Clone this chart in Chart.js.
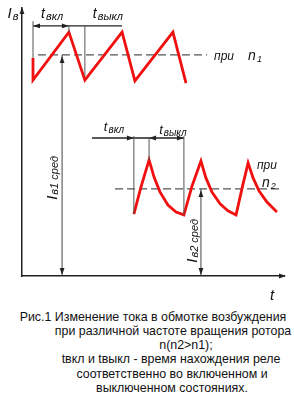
<!DOCTYPE html>
<html>
<head>
<meta charset="utf-8">
<script src="https://cdn.jsdelivr.net/npm/chart.js@4.4.0/dist/chart.umd.min.js"></script>
<style>
body { margin: 0; background: #fff; }
#wrap { position: relative; width: 294px; height: 398px; overflow: hidden; }
#grafik { position: absolute; left: 0; top: 0; }
.cap { position: absolute; width: 300px; text-align: center; font-family: "Liberation Sans", Arial, sans-serif; font-size: 12.4px; line-height: 14px; white-space: nowrap; color: #111; }
</style>
</head>
<body>
<div id="wrap">
<canvas id="grafik" width="294" height="302"></canvas>
<div class="cap" style="left:3px;top:310px">Рис.1 Изменение тока в обмотке возбуждения</div>
<div class="cap" style="left:23px;top:324px">при различной частоте вращения ротора</div>
<div class="cap" style="left:36px;top:338px">n(n2&gt;n1);</div>
<div class="cap" style="left:21px;top:352px">tвкл и tвыкл - время нахождения реле</div>
<div class="cap" style="left:22px;top:367px">соответственно во включенном и</div>
<div class="cap" style="left:22px;top:381px">выключенном состояниях.</div>
</div>
<script>
// =================
// DATA (time 0..100, current 0..100)
// =================
// ток при n1
let t1 = [4.2, 4.2, 17.9, 24.0, 38.2, 43.1, 57.6, 62.6];
let i1 = [81.3, 73.1, 91.0, 73.1, 91.0, 72.8, 91.0, 72.0];

// ток при n2
let t2 = [42.7, 45.4, 48.5, 50.4, 52.7, 55.7, 58.8, 61.8, 64.9, 68.3, 70.2, 72.5, 75.6, 78.6, 81.7, 84.0, 86.3, 88.2, 90.5, 93.5, 97.3];
let i2 = [23.1, 33.2, 43.3, 36.9, 31.3, 26.5, 23.9, 22.8, 33.6, 42.9, 36.6, 31.3, 26.9, 24.3, 22.8, 32.8, 42.2, 36.6, 31.7, 27.6, 23.9];

// средний ток (уровень, от, до)
let iSred1 = [82.5, 6.1, 70.6];
let iSred2 = [32.5, 35.5, 98.5];

// размерные линии
let razmer1 = { y: 93.3, from: 4.2, to: 38.2, vkl: [4.2, 17.9], vykl: 24.0 };
let razmer2 = { y: 51.5, from: 26.7, to: 61.8, vkl: 42.7, vykl: [48.5, 61.8] };
let sredX = [15.3, 68.3];

function toPoints(xs, ys) {
    return xs.map((x, k) => ({ x: x, y: ys[k] }));
}

// =================
// RISUNOK
// =================
const RED = "#f01010";
const DARK = "#222";
const FONT = "'Liberation Sans', Arial, sans-serif";

function arrow(ctx, x, y, dir) {
    // dir: "l", "r", "u", "d"
    let L = 7, H = 2.4;
    ctx.beginPath();
    ctx.moveTo(x, y);
    if (dir === "r") { ctx.lineTo(x - L, y - H); ctx.lineTo(x - L, y + H); }
    if (dir === "l") { ctx.lineTo(x + L, y - H); ctx.lineTo(x + L, y + H); }
    if (dir === "u") { ctx.lineTo(x - H, y + L); ctx.lineTo(x + H, y + L); }
    if (dir === "d") { ctx.lineTo(x - H, y - L); ctx.lineTo(x + H, y - L); }
    ctx.closePath();
    ctx.fill();
}

function line(ctx, x1, y1, x2, y2) {
    ctx.beginPath();
    ctx.moveTo(x1, y1);
    ctx.lineTo(x2, y2);
    ctx.stroke();
}

// main letter + lowered small index
function subText(ctx, main, sub, x, y, size, subSize, align) {
    ctx.font = "italic " + size + "px " + FONT;
    let w1 = ctx.measureText(main).width;
    ctx.font = "italic " + subSize + "px " + FONT;
    let w2 = ctx.measureText(sub).width;
    let start = align === "center" ? x - (w1 + w2 + 1) / 2 : x;
    ctx.textAlign = "left";
    ctx.font = "italic " + size + "px " + FONT;
    ctx.fillText(main, start, y);
    ctx.font = "italic " + subSize + "px " + FONT;
    ctx.fillText(sub, start + w1 + 1, y + 2);
}

const dopolnenie = {
    id: "dopolnenie",
    afterDraw(chart) {
        let ctx = chart.ctx;
        let sx = chart.scales.x, sy = chart.scales.y;
        let px = v => sx.getPixelForValue(v);
        let py = v => sy.getPixelForValue(v);
        let area = chart.chartArea;

        ctx.save();
        ctx.fillStyle = DARK;
        ctx.strokeStyle = DARK;

        // стрелки осей
        arrow(ctx, area.left, area.top - 1, "u");
        arrow(ctx, area.right + 2, area.bottom, "r");

        // размер 1 (верх)
        ctx.lineWidth = 1.3;
        line(ctx, px(razmer1.from), py(razmer1.y), px(razmer1.to), py(razmer1.y));
        arrow(ctx, px(razmer1.vkl[0]), py(razmer1.y), "l");
        arrow(ctx, px(razmer1.vkl[1]), py(razmer1.y), "r");
        ctx.lineWidth = 1;
        ctx.strokeStyle = "#555";
        line(ctx, px(razmer1.vkl[0]), py(95.1), px(razmer1.vkl[0]), py(i1[0]));
        line(ctx, px(razmer1.vkl[1]), py(razmer1.y), px(razmer1.vkl[1]), py(91));
        line(ctx, px(razmer1.vykl), py(razmer1.y), px(razmer1.vykl), py(74.5));

        // размер 2 (низ)
        ctx.strokeStyle = DARK;
        ctx.lineWidth = 1.3;
        line(ctx, px(razmer2.from), py(razmer2.y), px(razmer2.to), py(razmer2.y));
        arrow(ctx, px(razmer2.vkl), py(razmer2.y), "r");
        arrow(ctx, px(razmer2.vykl[0]), py(razmer2.y), "l");
        arrow(ctx, px(razmer2.vykl[1]), py(razmer2.y), "r");
        ctx.lineWidth = 1;
        ctx.strokeStyle = "#555";
        line(ctx, px(razmer2.vkl), py(52.2), px(razmer2.vkl), py(i2[0]));
        line(ctx, px(razmer2.vykl[0]), py(razmer2.y), px(razmer2.vykl[0]), py(43.3));
        line(ctx, px(razmer2.vykl[1]), py(52.2), px(razmer2.vykl[1]), py(22.8));

        // средние токи
        ctx.strokeStyle = "#444";
        line(ctx, px(sredX[0]), py(iSred1[0]), px(sredX[0]), area.bottom);
        arrow(ctx, px(sredX[0]), py(iSred1[0]) + 1, "u");
        arrow(ctx, px(sredX[0]), area.bottom - 1, "d");
        line(ctx, px(sredX[1]), py(iSred2[0]), px(sredX[1]), area.bottom);
        arrow(ctx, px(sredX[1]), py(iSred2[0]) + 1, "u");
        arrow(ctx, px(sredX[1]), area.bottom - 1, "d");

        // подписи
        ctx.fillStyle = "#111";
        ctx.textBaseline = "alphabetic";
        subText(ctx, "I", "в", px(-5.5), py(96.3), 15, 11, "left");
        subText(ctx, "t", "вкл", px(11.5), py(96.3), 14, 11, "center");
        subText(ctx, "t", "выкл", px(32.8), py(96.3), 14, 11, "center");
        subText(ctx, "t", "вкл", px(35.1), py(54.1), 13, 10, "center");
        subText(ctx, "t", "выкл", px(57.6), py(53.0), 13, 10, "center");

        ctx.font = "italic 12px " + FONT;
        ctx.textAlign = "left";
        ctx.fillText("при", px(73.3), py(80.6));
        subText(ctx, "n", "1", px(86.3), py(80.6), 14, 9, "left");
        ctx.font = "italic 12px " + FONT;
        ctx.fillText("при", px(89.7), py(39.9));
        subText(ctx, "n", "2", px(91.6), py(33.2), 14, 9, "left");

        ctx.font = "italic 15px " + FONT;
        ctx.fillText("t", px(94.7), py(-9));

        // повернутые подписи
        let rot = [[11.5, 36.6, "1"], [64.9, 13.1, "2"]];
        rot.forEach(r => {
            ctx.save();
            ctx.translate(px(r[0]), py(r[1]));
            ctx.rotate(-Math.PI / 2);
            ctx.font = "italic 15px " + FONT;
            let w = ctx.measureText("I").width;
            ctx.font = "italic 11px " + FONT;
            let txt = "в" + r[2] + " сред";
            let w2 = ctx.measureText(txt).width;
            let s = -(w + w2 + 1) / 2;
            ctx.font = "italic 15px " + FONT;
            ctx.fillText("I", s, 5);
            ctx.font = "italic 11px " + FONT;
            ctx.fillText(txt, s + w + 1, 6);
            ctx.restore();
        });

        ctx.restore();
    }
};

let ctx = document.getElementById("grafik").getContext("2d");
let grafik = new Chart(ctx, {
    type: "scatter",
    data: {
        datasets: [
            { data: toPoints(t1, i1), showLine: true, borderColor: RED, borderWidth: 2.8, pointRadius: 0, borderJoinStyle: "miter" },
            { data: toPoints(t2, i2), showLine: true, borderColor: RED, borderWidth: 2.8, pointRadius: 0, borderJoinStyle: "miter" },
            { data: toPoints([iSred1[1], iSred1[2]], [iSred1[0], iSred1[0]]), showLine: true, borderColor: "#555", borderWidth: 1.3, borderDash: [8, 4], pointRadius: 0 },
            { data: toPoints([iSred2[1], iSred2[2]], [iSred2[0], iSred2[0]]), showLine: true, borderColor: "#555", borderWidth: 1.3, borderDash: [8, 4], pointRadius: 0 }
        ]
    },
    options: {
        responsive: false,
        animation: false,
        clip: false,
        layout: { padding: { left: 22, top: 8, right: 10, bottom: 26 } },
        plugins: { legend: { display: false }, tooltip: { enabled: false } },
        scales: {
            x: { type: "linear", min: 0, max: 100, grid: { display: false, drawTicks: false }, ticks: { display: false }, border: { display: true, color: DARK, width: 1.5 } },
            y: { type: "linear", min: 0, max: 100, grid: { display: false, drawTicks: false }, ticks: { display: false }, border: { display: true, color: DARK, width: 1.5 } }
        }
    },
    plugins: [dopolnenie]
});
</script>
</body>
</html>
